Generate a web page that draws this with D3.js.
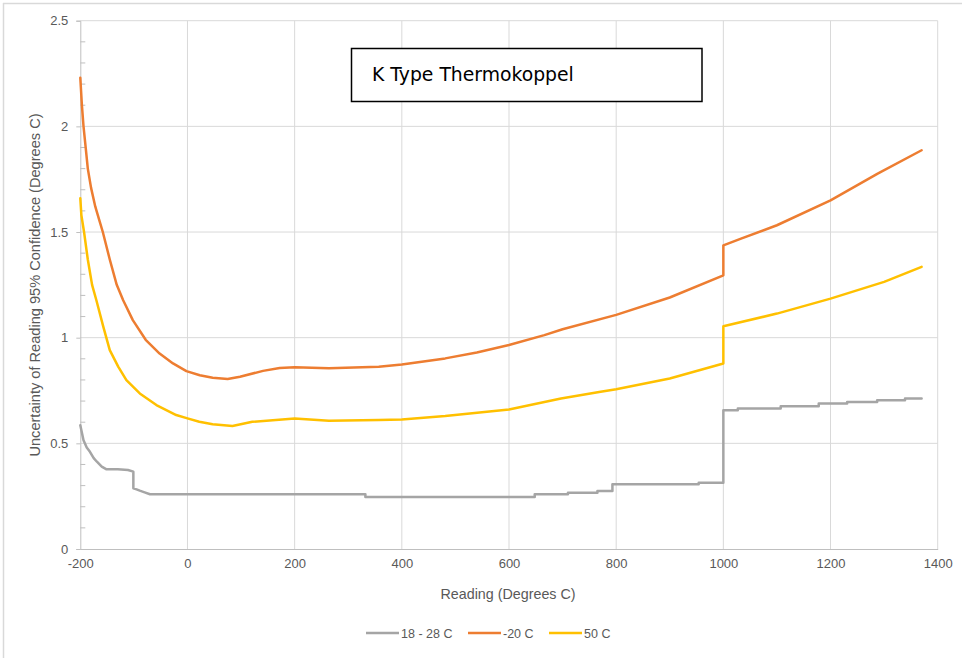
<!DOCTYPE html>
<html>
<head>
<meta charset="utf-8">
<script src="https://cdn.jsdelivr.net/npm/d3@7"></script>
<style>
  html, body { margin: 0; padding: 0; background: #fff; }
  svg { display: block; }
</style>
</head>
<body>
<svg id="chart" width="962" height="658"></svg>
<script>
// ---- Data ----
const xTicks = [-200, 0, 200, 400, 600, 800, 1000, 1200, 1400];
const yTicks = [0, 0.5, 1, 1.5, 2, 2.5];
const seriesNames = ["18 - 28 C", "-20 C", "50 C"];
const seriesColors = ["#A5A5A5", "#ED7D31", "#FFC000"];

const grayX = [-200,-194,-188,-182,-175,-169,-160,-151,-130,-111,-101,-101,-95,-89,-80,-70,332,332,648,648,710,710,765,765,793,793,954,954,1000,1000,1027,1027,1107,1107,1178,1178,1231,1231,1287,1287,1339,1339,1370];
const grayY = [0.586,0.515,0.48,0.46,0.43,0.413,0.39,0.377,0.377,0.374,0.366,0.287,0.282,0.276,0.268,0.259,0.259,0.246,0.246,0.259,0.259,0.266,0.266,0.274,0.274,0.307,0.307,0.313,0.313,0.657,0.657,0.665,0.665,0.676,0.676,0.689,0.689,0.696,0.696,0.704,0.704,0.712,0.712];

const orangeX = [-200,-197,-194,-190,-186,-180,-172,-165,-158,-145,-132,-120,-102,-78,-52,-27,-2,23,47,75,98,141,172,200,264,357,400,481,540,600,666,700,800,900,1000,1000,1033,1100,1200,1288,1370];
const orangeY = [2.23,2.10,2.00,1.90,1.80,1.71,1.62,1.56,1.50,1.37,1.25,1.177,1.083,0.99,0.925,0.878,0.842,0.822,0.81,0.804,0.815,0.843,0.857,0.860,0.855,0.862,0.873,0.902,0.93,0.965,1.012,1.04,1.108,1.19,1.295,1.437,1.469,1.532,1.65,1.776,1.887];

const yellowX = [-200,-198,-193,-186,-178,-170,-157,-145,-129,-114,-89,-58,-21,0,22,47,84,121,200,264,357,400,481,600,697,771,800,900,1000,1000,1100,1200,1300,1370];
const yellowY = [1.66,1.58,1.50,1.37,1.25,1.177,1.051,0.941,0.862,0.799,0.736,0.681,0.634,0.618,0.602,0.59,0.582,0.602,0.618,0.607,0.61,0.613,0.629,0.66,0.712,0.744,0.756,0.807,0.878,1.054,1.114,1.185,1.264,1.335];

const seriesX = [grayX, orangeX, yellowX];
const seriesY = [grayY, orangeY, yellowY];

// ---- Layout ----
const svg = d3.select("#chart");
const pLeft = 80.3, pRight = 937.7, pTop = 20.7, pBottom = 549;
const x = d3.scaleLinear().domain([-200, 1400]).range([pLeft, pRight]);
const y = d3.scaleLinear().domain([0, 2.5]).range([pBottom, pTop]);
const labelFont = "'Liberation Sans', Arial, sans-serif";
const textColor = "#595959";

// chart border (top & left visible)
svg.append("line").attr("x1", 3).attr("x2", 962).attr("y1", 3.5).attr("y2", 3.5)
  .attr("stroke", "#D9D9D9").attr("stroke-width", 1.5);
svg.append("line").attr("x1", 3.5).attr("x2", 3.5).attr("y1", 3).attr("y2", 658)
  .attr("stroke", "#D9D9D9").attr("stroke-width", 1.5);

// gridlines
svg.append("g").selectAll("line").data(xTicks.filter(d => d !== -200)).join("line")
  .attr("x1", d => x(d)).attr("x2", d => x(d)).attr("y1", pTop).attr("y2", pBottom)
  .attr("stroke", "#D9D9D9").attr("stroke-width", 1);
svg.append("g").selectAll("line").data(yTicks.filter(d => d !== 0)).join("line")
  .attr("x1", pLeft).attr("x2", pRight).attr("y1", d => y(d)).attr("y2", d => y(d))
  .attr("stroke", "#D9D9D9").attr("stroke-width", 1);

// Y axis
const yAxis = svg.append("g").attr("transform", `translate(${pLeft},0)`)
  .call(d3.axisLeft(y).tickValues(yTicks).tickSize(4).tickPadding(8).tickFormat(d => String(d)));
yAxis.select(".domain").attr("stroke", "#BFBFBF");
yAxis.selectAll(".tick line").attr("stroke", "#BFBFBF");
yAxis.selectAll(".tick text").attr("fill", textColor).style("font-family", labelFont).style("font-size", "13px");
// minor ticks
const minor = d3.range(1, 25).map(i => i / 10).filter(v => Math.abs(v * 2 - Math.round(v * 2)) > 1e-6);
svg.append("g").selectAll("line").data(minor).join("line")
  .attr("x1", pLeft).attr("x2", pLeft + 5).attr("y1", d => y(d)).attr("y2", d => y(d))
  .attr("stroke", "#BFBFBF").attr("stroke-width", 1);

// X axis
const xAxis = svg.append("g").attr("transform", `translate(0,${pBottom})`)
  .call(d3.axisBottom(x).tickValues(xTicks).tickSize(0).tickPadding(10).tickFormat(d => String(d)));
xAxis.select(".domain").attr("stroke", "#BFBFBF");
xAxis.selectAll(".tick text").attr("fill", textColor).style("font-family", labelFont).style("font-size", "13px");

// axis titles
svg.append("text").attr("x", 508).attr("y", 599)
  .attr("text-anchor", "middle").attr("fill", textColor)
  .style("font-family", labelFont).style("font-size", "14.3px")
  .text("Reading (Degrees C)");
svg.append("text").attr("transform", `translate(40,285) rotate(-90)`)
  .attr("text-anchor", "middle").attr("fill", textColor)
  .style("font-family", labelFont).style("font-size", "14.6px")
  .text("Uncertainty of Reading 95% Confidence (Degrees C)");

// series
const line = d3.line().x(d => x(d[0])).y(d => y(d[1]));
seriesNames.forEach((name, i) => {
  const pts = seriesX[i].map((v, j) => [v, seriesY[i][j]]);
  svg.append("path").datum(pts).attr("d", line)
    .attr("fill", "none").attr("stroke", seriesColors[i])
    .attr("stroke-width", 2.5).attr("stroke-linejoin", "round").attr("stroke-linecap", "round");
});

// title box
svg.append("rect").attr("x", 351.5).attr("y", 48.5).attr("width", 350.5).attr("height", 53)
  .attr("fill", "#fff").attr("stroke", "#000").attr("stroke-width", 1.5);
svg.append("text").attr("x", 372).attr("y", 81)
  .attr("fill", "#000").style("font-family", "'DejaVu Sans', Verdana, sans-serif").style("font-size", "18.8px")
  .text("K Type Thermokoppel");

// legend
const legendPos = [366, 468, 549];
const lg = svg.append("g");
seriesNames.forEach((name, i) => {
  const gx = legendPos[i];
  lg.append("line").attr("x1", gx).attr("x2", gx + 33).attr("y1", 633).attr("y2", 633)
    .attr("stroke", seriesColors[i]).attr("stroke-width", 2.5);
  lg.append("text").attr("x", gx + 35).attr("y", 637.5).attr("fill", textColor)
    .style("font-family", labelFont).style("font-size", "12.5px").text(name);
});
</script>
</body>
</html>
